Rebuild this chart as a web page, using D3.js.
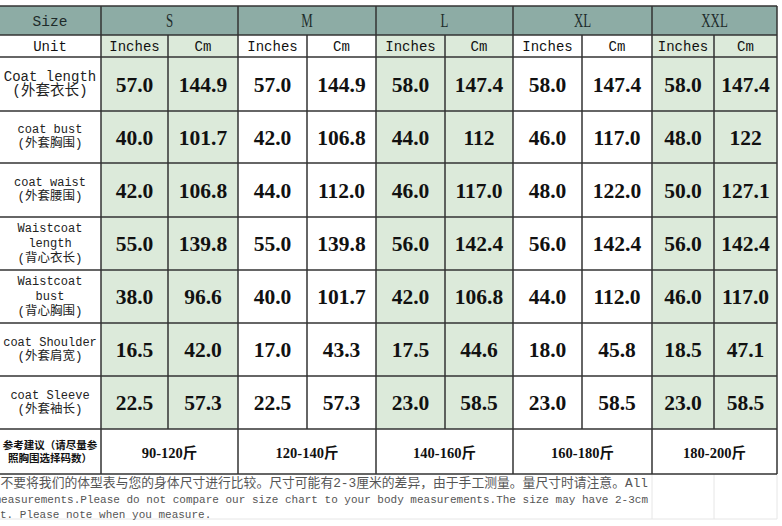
<!DOCTYPE html>
<html>
<head>
<meta charset="utf-8">
<script src="https://cdn.jsdelivr.net/npm/d3@7"></script>
<style>
  html, body { margin: 0; padding: 0; background: #fff; }
  svg { display: block; }
</style>
</head>
<body>
<div id="chart"></div>
<script>
// size chart values
const sizes = ["S", "M", "L", "XL", "XXL"];
const units = ["Inches", "Cm"];
const rowLabels = [
    ["Coat length", "(外套衣长)"],
    ["coat bust", "(外套胸围)"],
    ["coat waist", "(外套腰围)"],
    ["Waistcoat", "length", "(背心衣长)"],
    ["Waistcoat", "bust", "(背心胸围)"],
    ["coat Shoulder", "(外套肩宽)"],
    ["coat Sleeve", "(外套袖长)"]
];
// inches / cm pairs for S, M, L, XL, XXL
const coatLength      = ["57.0", "144.9", "57.0", "144.9", "58.0", "147.4", "58.0", "147.4", "58.0", "147.4"];
const coatBust        = ["40.0", "101.7", "42.0", "106.8", "44.0", "112",   "46.0", "117.0", "48.0", "122"];
const coatWaist       = ["42.0", "106.8", "44.0", "112.0", "46.0", "117.0", "48.0", "122.0", "50.0", "127.1"];
const waistcoatLength = ["55.0", "139.8", "55.0", "139.8", "56.0", "142.4", "56.0", "142.4", "56.0", "142.4"];
const waistcoatBust   = ["38.0", "96.6",  "40.0", "101.7", "42.0", "106.8", "44.0", "112.0", "46.0", "117.0"];
const coatShoulder    = ["16.5", "42.0",  "17.0", "43.3",  "17.5", "44.6",  "18.0", "45.8",  "18.5", "47.1"];
const coatSleeve      = ["22.5", "57.3",  "22.5", "57.3",  "23.0", "58.5",  "23.0", "58.5",  "23.0", "58.5"];
const weightRanges = ["90-120斤", "120-140斤", "140-160斤", "160-180斤", "180-200斤"];
const refLabel = ["参考建议（请尽量参", "照胸围选择码数）"];
const notes = [
    "不要将我们的体型表与您的身体尺寸进行比较。尺寸可能有2-3厘米的差异，由于手工测量。量尺寸时请注意。All",
    "measurements.Please do not compare our size chart to your body measurements.The size may have 2-3cm",
    "measurement. Please note when you measure."
];

const rows = [coatLength, coatBust, coatWaist, waistcoatLength, waistcoatBust, coatShoulder, coatSleeve];

const width = 782, height = 526;
const mono = "'Liberation Mono', 'DejaVu Sans Mono', 'Noto Sans CJK SC', monospace";
const serif = "'Liberation Serif', 'DejaVu Serif', 'Noto Sans CJK SC', serif";
const headFill = '#8daca5', green = '#dceada', line = '#333';

// grid edges (layout only)
const colKeys = d3.range(12);
const rowKeys = ["top", "unit", "r0", "r1", "r2", "r3", "r4", "r5", "r6", "ref", "end"];
const xEdge = d3.scaleOrdinal().domain(colKeys)
    .range([-1, 101, 168, 238, 307, 376, 445, 513, 582, 652, 714, 777]);
const yEdge = d3.scaleOrdinal().domain(rowKeys)
    .range([6, 35, 57, 111, 163, 217, 270, 323, 376, 429, 474]);

const svg = d3.select('#chart').append('svg')
    .attr('width', width).attr('height', height);

// faint page lines under the notes
const faint = svg.append('g').attr('stroke', '#e6e6e6').attr('stroke-width', 1);
[9, 10, 11].forEach(c => {
    faint.append('line').attr('x1', xEdge(c)).attr('x2', xEdge(c))
        .attr('y1', yEdge('end')).attr('y2', 519);
});
faint.append('line').attr('x1', 0).attr('x2', xEdge(11)).attr('y1', 519).attr('y2', 519);

// header background
svg.append('rect')
    .attr('x', xEdge(0)).attr('y', yEdge('top'))
    .attr('width', xEdge(11) - xEdge(0)).attr('height', yEdge('unit') - yEdge('top'))
    .attr('fill', headFill);

// green size columns (S, L, XXL)
sizes.forEach((s, i) => {
    if (i % 2 !== 0) return;
    svg.append('rect')
        .attr('x', xEdge(1 + i * 2)).attr('y', yEdge('unit'))
        .attr('width', xEdge(3 + i * 2) - xEdge(1 + i * 2))
        .attr('height', yEdge('ref') - yEdge('unit'))
        .attr('fill', green);
});

// grid lines
const grid = svg.append('g').attr('stroke', line).attr('stroke-width', 1.5);
rowKeys.forEach(k => {
    grid.append('line').attr('x1', xEdge(0)).attr('x2', xEdge(11))
        .attr('y1', yEdge(k)).attr('y2', yEdge(k));
});
colKeys.forEach(c => {
    const inner = c >= 2 && c % 2 === 0 && c < 11;
    grid.append('line').attr('x1', xEdge(c)).attr('x2', xEdge(c))
        .attr('y1', inner ? yEdge('unit') : yEdge('top'))
        .attr('y2', inner ? yEdge('ref') : yEdge('end'));
});

const mid = (a, b) => (a + b) / 2;
const txt = svg.append('g').attr('fill', '#111').attr('text-anchor', 'middle');

// header row
txt.append('text')
    .attr('x', mid(xEdge(0), xEdge(1))).attr('y', mid(yEdge('top'), yEdge('unit')))
    .attr('dy', '0.35em').attr('font-family', mono).attr('font-size', 14.5)
    .attr('fill', '#1d2b2a').text('Size');
sizes.forEach((s, i) => {
    const cx = mid(xEdge(1 + i * 2), xEdge(3 + i * 2));
    const cy = mid(yEdge('top'), yEdge('unit'));
    txt.append('text')
        .attr('transform', `translate(${cx},${cy}) scale(0.68,1)`)
        .attr('dy', '0.35em').attr('font-family', serif).attr('font-size', 19)
        .attr('fill', '#1d2b2a').text(s);
});

// unit row
txt.append('text')
    .attr('x', mid(xEdge(0), xEdge(1))).attr('y', mid(yEdge('unit'), yEdge('r0')))
    .attr('dy', '0.35em').attr('font-family', mono).attr('font-size', 14).text('Unit');
sizes.forEach((s, i) => {
    units.forEach((u, j) => {
        const c = 1 + i * 2 + j;
        txt.append('text')
            .attr('x', mid(xEdge(c), xEdge(c + 1))).attr('y', mid(yEdge('unit'), yEdge('r0')))
            .attr('dy', '0.35em').attr('font-family', mono).attr('font-size', 14).text(u);
    });
});

// measurement rows
rows.forEach((vals, r) => {
    const y0 = yEdge('r' + r), y1 = yEdge(rowKeys[r + 3]);
    const cy = mid(y0, y1);
    const lab = rowLabels[r];
    const big = r === 0;
    const step = big ? 14 : (lab.length === 3 ? 15 : 14);
    lab.forEach((t, k) => {
        const cjk = k === lab.length - 1;
        txt.append('text')
            .attr('x', mid(xEdge(0), xEdge(1)))
            .attr('y', cy - 1 + (k - (lab.length - 1) / 2) * step)
            .attr('dy', '0.35em').attr('font-family', mono)
            .attr('font-size', big ? (cjk ? 14.5 : 14) : (cjk ? 12.5 : 12))
            .attr('fill', '#222').text(t);
    });
    vals.forEach((v, c) => {
        txt.append('text')
            .attr('x', mid(xEdge(c + 1), xEdge(c + 2))).attr('y', cy)
            .attr('dy', '0.35em').attr('font-family', serif).attr('font-size', 21.5)
            .attr('font-weight', 'bold').text(v);
    });
});

// reference weight row
const refY = mid(yEdge('ref'), yEdge('end'));
refLabel.forEach((t, k) => {
    txt.append('text')
        .attr('x', mid(xEdge(0), xEdge(1))).attr('y', refY + (k - 0.5) * 13)
        .attr('dy', '0.35em').attr('font-family', "'Noto Sans CJK SC', sans-serif")
        .attr('font-size', 10.5).attr('font-weight', 'bold').text(t);
});
weightRanges.forEach((w, i) => {
    txt.append('text')
        .attr('x', mid(xEdge(1 + i * 2), xEdge(3 + i * 2))).attr('y', refY + 1)
        .attr('dy', '0.35em').attr('font-family', serif).attr('font-size', 14.5)
        .attr('font-weight', 'bold').text(w);
});

// notes under the table (cut off on the left like the picture)
const noteY = [483, 499, 514];
notes.forEach((n, k) => {
    svg.append('text')
        .attr('x', k === 2 ? -66 : 648).attr('y', noteY[k])
        .attr('dy', '0.35em')
        .attr('text-anchor', k === 2 ? 'start' : 'end')
        .attr('font-family', mono).attr('font-size', k === 0 ? 12.8 : 11)
        .attr('fill', '#555').text(n);
});
</script>
</body>
</html>
